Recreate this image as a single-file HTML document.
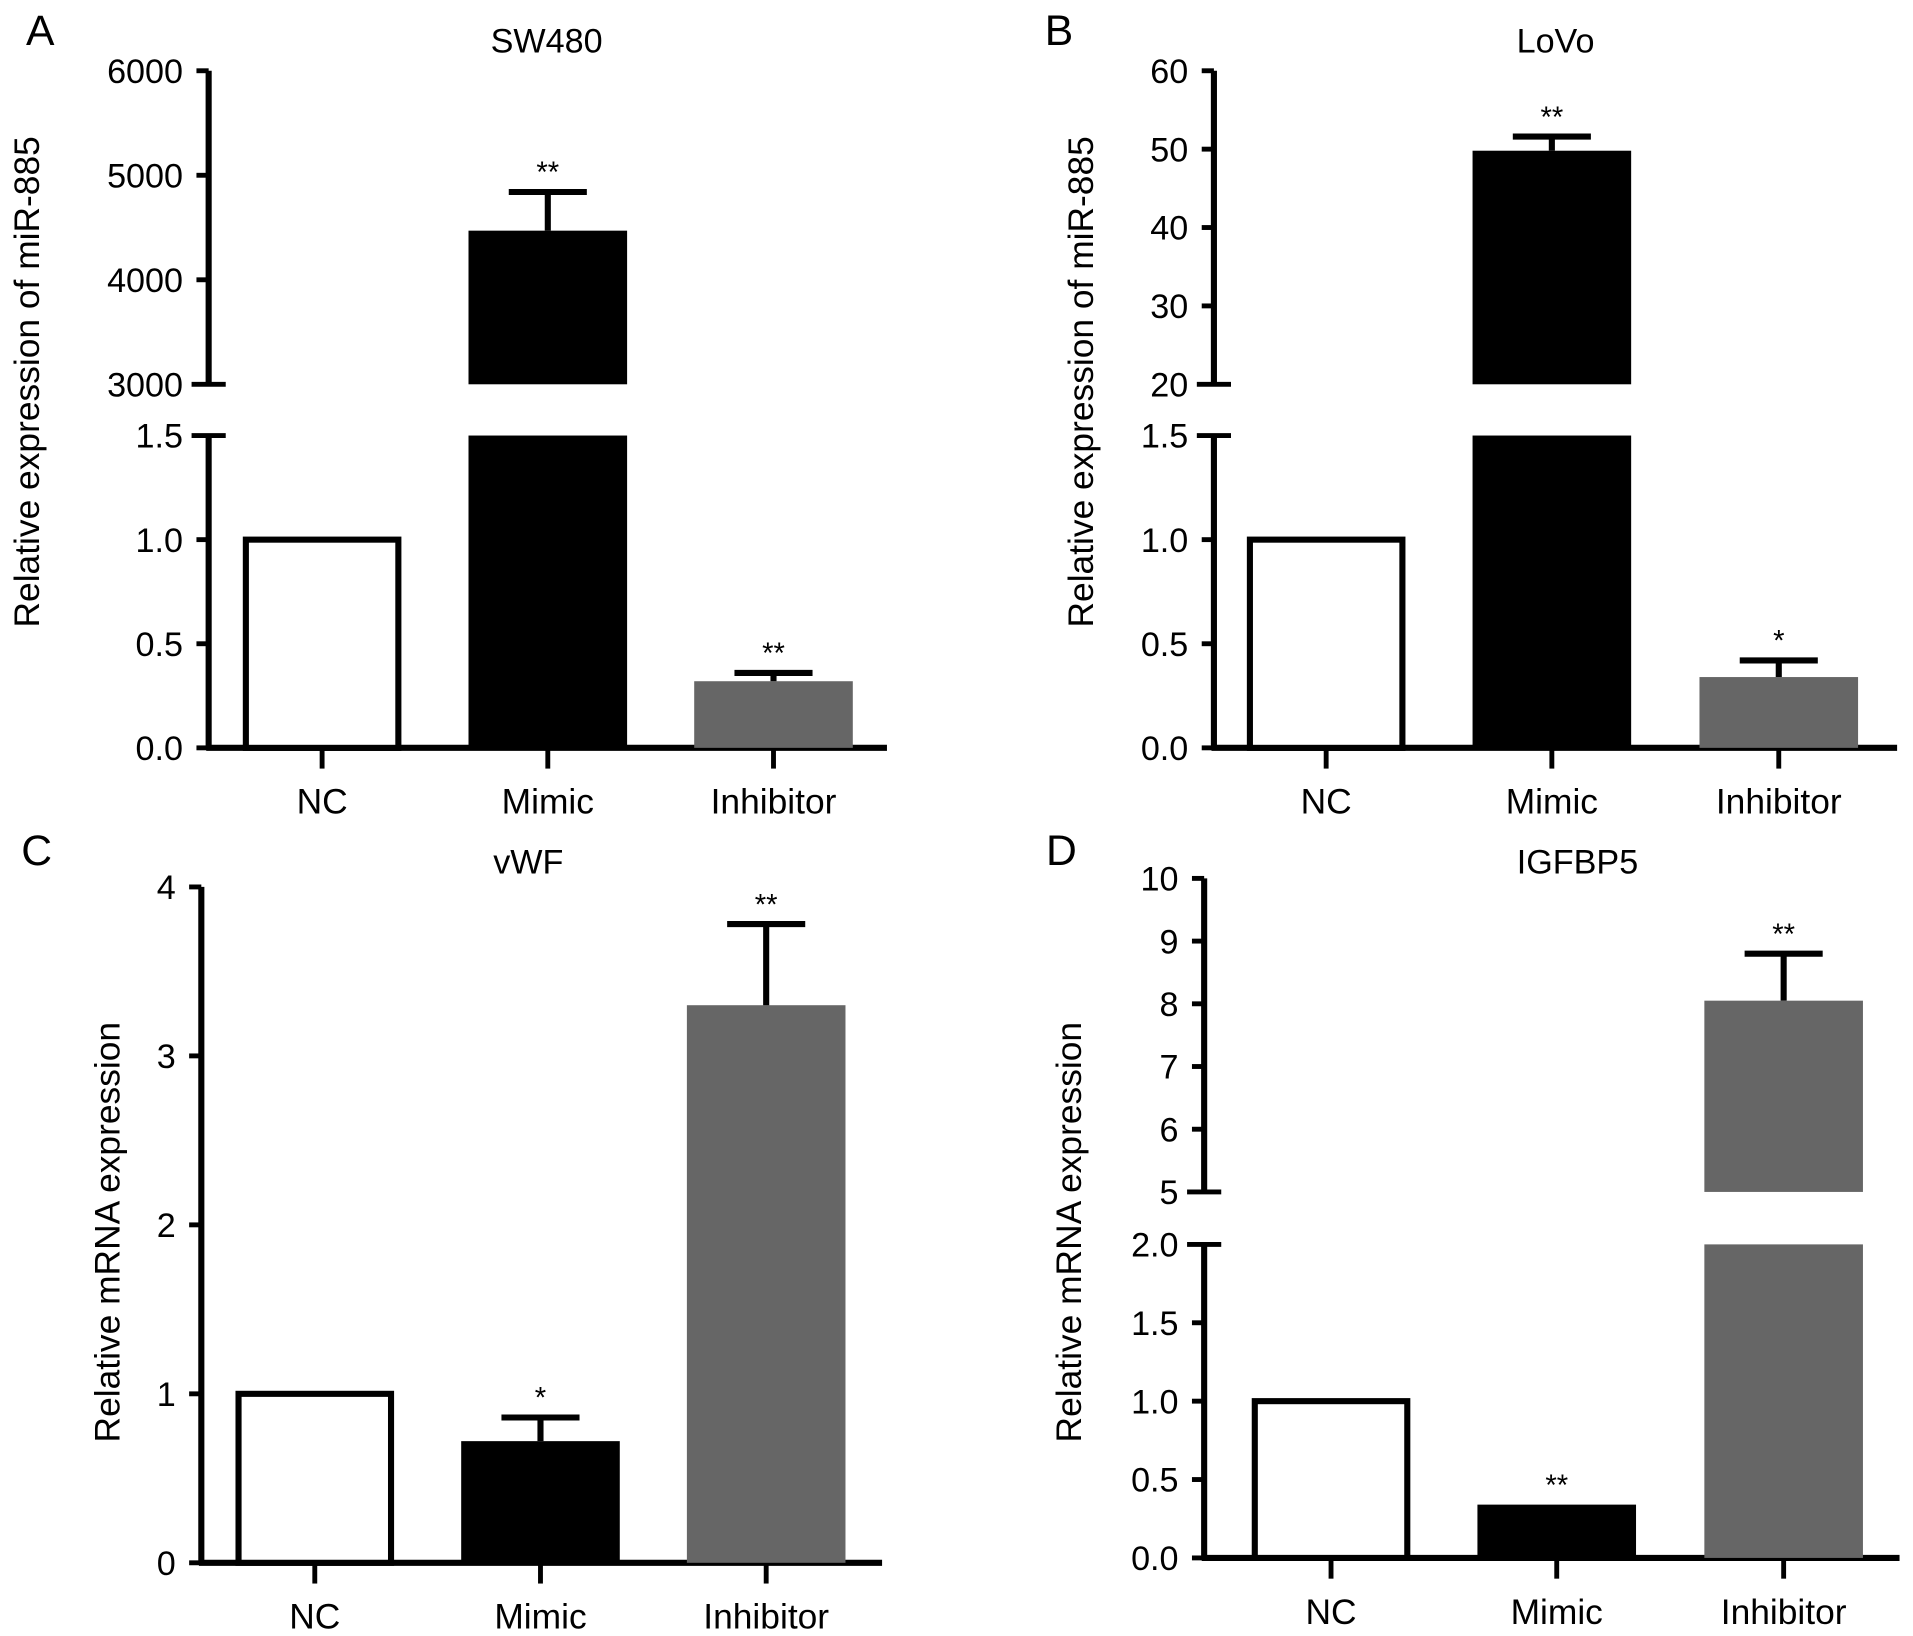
<!DOCTYPE html>
<html><head><meta charset="utf-8"><style>
html,body{margin:0;padding:0;background:#fff}
svg{display:block;font-family:"Liberation Sans",Arial,sans-serif}
</style></head><body>
<svg id="fig" width="1913" height="1636" viewBox="0 0 1568 1341" xmlns="http://www.w3.org/2000/svg"></svg>
<script>
const categories = ["NC","Mimic","Inhibitor"];
const fills = ["#fff","#000","#666"];
// Panel A SW480
const aValues = [1.0, 4470, 0.32];
const aErrors = [0, 4840, 0.36];
const aStars = ["", "**", "**"];
const aUpperTicks = [3000,4000,5000,6000];
const aLowerTicks = [0.0,0.5,1.0,1.5];
const aUpperLabels = ["3000","4000","5000","6000"];
const aLowerLabels = ["0.0","0.5","1.0","1.5"];
// Panel B LoVo
const bValues = [1.0, 49.8, 0.34];
const bErrors = [0, 51.6, 0.42];
const bStars = ["", "**", "*"];
const bUpperTicks = [20,30,40,50,60];
const bLowerTicks = [0.0,0.5,1.0,1.5];
const bUpperLabels = ["20","30","40","50","60"];
const bLowerLabels = ["0.0","0.5","1.0","1.5"];
// Panel C vWF
const cValues = [1.0, 0.72, 3.3];
const cErrors = [0, 0.86, 3.78];
const cStars = ["", "*", "**"];
const cTicks = [0,1,2,3,4];
const cLabels = ["0","1","2","3","4"];
// Panel D IGFBP5
const dValues = [1.0, 0.34, 8.05];
const dErrors = [0, 0, 8.8];
const dStars = ["", "**", "**"];
const dUpperTicks = [5,6,7,8,9,10];
const dLowerTicks = [0.0,0.5,1.0,1.5,2.0];
const dUpperLabels = ["5","6","7","8","9","10"];
const dLowerLabels = ["0.0","0.5","1.0","1.5","2.0"];

const svg = document.getElementById('fig');
const NS = "http://www.w3.org/2000/svg";
function mk(tag, attrs, parent, name){
  const e = document.createElementNS(NS, tag);
  for (const k in attrs) e.setAttribute(k, attrs[k]);
  
  
  parent.appendChild(e);
  return e;
}
function txt(x,y,s,size,anchor,parent,name,extra){
  const t = mk('text', Object.assign({x:x,y:y,'font-size':size,'text-anchor':anchor||'middle',fill:'#000'}, extra||{}), parent, name);
  t.textContent = s;
  return t;
}

function panel(p){
  const g = mk('g', {}, svg, p.id+'-panel');
  txt(p.letterX, p.letterY, p.letter, 35, 'middle', g, p.id+'-panel-letter');
  txt(p.titleX, p.titleY, p.title, 28, 'middle', g, p.id+'-title');
  txt(0,0,p.ylabel,29,'middle',g,p.id+'-y-axis-title',{transform:`translate(${p.ylabelX},${p.ylabelY}) rotate(-90)`});
  const segs = p.segments;
  function ys(v){
    for (const s of segs){ if (v >= s.min && v <= s.max + 1e-9) return s.y0 - (v - s.min)/(s.max - s.min)*(s.y0 - s.y1); }
    return null;
  }
  const ax = p.axisX;
  segs.forEach((s,si)=>{
    mk('line',{x1:ax,x2:ax,y1:s.y0,y2:s.y1,stroke:'#000','stroke-width':5},g,p.id+'-y-axis-segment');
    s.ticks.forEach((t,i)=>{
      const y = ys(t);
      const big = (si>0 && i===0) || (si===0 && i===s.ticks.length-1 && segs.length>1);
      mk('line',{x1:ax-(big?14:10),x2:big?ax+14:ax,y1:y,y2:y,stroke:'#000','stroke-width':4},g,p.id+'-y-tick');
      txt(ax-21, y+10, s.labels[i], 28, 'end', g, p.id+'-y-tick-label');
    });
  });
  const base = segs[0].y0;
  mk('line',{x1:ax-2,x2:p.axisEnd,y1:base,y2:base,stroke:'#000','stroke-width':5},g,p.id+'-x-axis');
  const bw = p.barW;
  categories.forEach((c,i)=>{
    const cx = p.centers[i];
    mk('line',{x1:cx,x2:cx,y1:base,y2:base+17,stroke:'#000','stroke-width':4},g,p.id+'-x-tick');
    txt(cx, base+54, c, 29, 'middle', g, p.id+'-x-label-'+c.toLowerCase());
    const v = p.values[i];
    const outlined = fills[i]==='#fff';
    if (outlined){
      mk('rect',{x:cx-bw/2+2.5,y:ys(v),width:bw-5,height:base-ys(v),fill:'#fff',stroke:'#000','stroke-width':5},g,p.id+'-bar-'+c.toLowerCase());
    } else {
      segs.forEach((s,si)=>{
        if (v < s.min) return;
        const top = ys(Math.min(v, s.max));
        mk('rect',{x:cx-bw/2,y:top,width:bw,height:s.y0-top,fill:fills[i]},g,p.id+'-bar-'+c.toLowerCase());
      });
    }
    const e = p.errors[i];
    if (e && e > v){
      const yt = ys(e), yv = ys(v);
      mk('line',{x1:cx,x2:cx,y1:yv,y2:yt,stroke:'#000','stroke-width':5},g,p.id+'-error-bar');
      mk('line',{x1:cx-32,x2:cx+32,y1:yt,y2:yt,stroke:'#000','stroke-width':5},g,p.id+'-error-cap');
    }
    if (p.stars[i]){
      const ytop = ys(e && e>v ? e : v);
      txt(cx, ytop-8, p.stars[i], 24, 'middle', g, p.id+'-significance');
    }
  });
}

panel({id:'a',letter:'A',letterX:33,letterY:37,title:'SW480',titleX:448,titleY:43,
  ylabel:'Relative expression of miR-885',ylabelX:32,ylabelY:313,axisX:171,axisEnd:727,
  segments:[{min:0,max:1.5,y0:613,y1:357,ticks:aLowerTicks,labels:aLowerLabels},
            {min:3000,max:6000,y0:315,y1:58,ticks:aUpperTicks,labels:aUpperLabels}],
  centers:[264,449,634],barW:130,values:aValues,errors:aErrors,stars:aStars});
panel({id:'b',letter:'B',letterX:868,letterY:37,title:'LoVo',titleX:1275,titleY:43,
  ylabel:'Relative expression of miR-885',ylabelX:896,ylabelY:313,axisX:995,axisEnd:1555,
  segments:[{min:0,max:1.5,y0:613,y1:357,ticks:bLowerTicks,labels:bLowerLabels},
            {min:20,max:60,y0:315,y1:58,ticks:bUpperTicks,labels:bUpperLabels}],
  centers:[1087,1272,1458],barW:130,values:bValues,errors:bErrors,stars:bStars});
panel({id:'c',letter:'C',letterX:30,letterY:709,title:'vWF',titleX:433,titleY:716,
  ylabel:'Relative mRNA expression',ylabelX:98,ylabelY:1010,axisX:165,axisEnd:723,
  segments:[{min:0,max:4,y0:1281,y1:727,ticks:cTicks,labels:cLabels}],
  centers:[258,443,628],barW:130,values:cValues,errors:cErrors,stars:cStars});
panel({id:'d',letter:'D',letterX:870,letterY:709,title:'IGFBP5',titleX:1293,titleY:716,
  ylabel:'Relative mRNA expression',ylabelX:886,ylabelY:1010,axisX:987,axisEnd:1557,
  segments:[{min:0,max:2,y0:1277,y1:1020,ticks:dLowerTicks,labels:dLowerLabels},
            {min:5,max:10,y0:977,y1:720,ticks:dUpperTicks,labels:dUpperLabels}],
  centers:[1091,1276,1462],barW:130,values:dValues,errors:dErrors,stars:dStars});
</script>
</body></html>
